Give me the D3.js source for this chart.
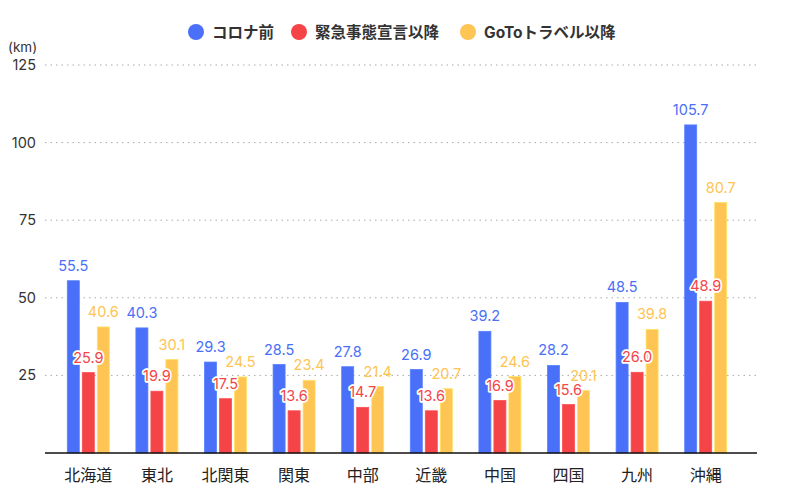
<!DOCTYPE html>
<html><head><meta charset="utf-8">
<script src="https://cdn.jsdelivr.net/npm/d3@7"></script>
<style>
body{margin:0;background:#fff;}
svg{font-family:Inter,"Noto Sans CJK JP",sans-serif;}
</style></head>
<body><svg id="c" width="800" height="500"></svg>
<script>
const categories = ["北海道","東北","北関東","関東","中部","近畿","中国","四国","九州","沖縄"];
const seriesNames = ["コロナ前","緊急事態宣言以降","GoToトラベル以降"];
const beforeCorona = [55.5,40.3,29.3,28.5,27.8,26.9,39.2,28.2,48.5,105.7];
const emergency = [25.9,19.9,17.5,13.6,14.7,13.6,16.9,15.6,26.0,48.9];
const goTo = [40.6,30.1,24.5,23.4,21.4,20.7,24.6,20.1,39.8,80.7];
const yTicks = [25,50,75,100,125];
const colors = ["#4a6ff8","#f44448","#fec454"];
const series = [beforeCorona, emergency, goTo];

const svg = d3.select("#c");
const y = d3.scaleLinear().domain([0,125]).range([453,65]);
const x = d3.scaleBand().domain(categories).range([54,740]);
const barW = 12, step = 15;

// gridlines
svg.append("g").selectAll("line").data(yTicks).join("line")
  .attr("x1",45).attr("x2",757).attr("y1",d=>y(d)).attr("y2",d=>y(d))
  .attr("stroke","#aaa").attr("stroke-width",1).attr("stroke-dasharray","1.5,4");
svg.append("g").selectAll("text").data(yTicks).join("text")
  .attr("x",36).attr("y",d=>y(d)+5).attr("text-anchor","end")
  .attr("font-size",14.5).attr("fill","#333").text(d=>d);
svg.append("text").attr("x",8).attr("y",52).attr("font-size",13.5).attr("fill","#333").text("(km)");

// bars
series.forEach((vals,si)=>{
  const g = svg.append("g");
  g.selectAll("rect").data(vals).join("rect")
    .attr("x",(d,i)=>x(categories[i])+x.bandwidth()/2 + (si-1)*step - barW/2)
    .attr("y",d=>y(d)).attr("width",barW).attr("height",d=>y(0)-y(d))
    .attr("fill",colors[si]).attr("stroke", d3.color(colors[si]).brighter(0.4)).attr("stroke-width",0.8);
});
// axis line
svg.append("line").attr("x1",45).attr("x2",757).attr("y1",y(0)).attr("y2",y(0))
  .attr("stroke","#111").attr("stroke-width",1.5);

// labels
series.forEach((vals,si)=>{
  const g = svg.append("g");
  g.selectAll("text").data(vals).join("text")
    .attr("x",(d,i)=>x(categories[i])+x.bandwidth()/2 + (si-1)*step)
    .attr("y",d=>y(d)-10).attr("text-anchor","middle").attr("font-size",14.5)
    .attr("fill",colors[si])
    .attr("stroke", si===1 ? "#fff" : "none").attr("stroke-width",si===1?3.5:0)
    .attr("paint-order","stroke").attr("stroke-linejoin","round")
    .text(d=>d.toFixed(1));
});

// x labels
svg.append("g").selectAll("text").data(categories).join("text")
  .attr("x",d=>x(d)+x.bandwidth()/2).attr("y",481).attr("text-anchor","middle")
  .attr("font-size",16).attr("fill","#222").text(d=>d);

// legend
const legX = [196,299,468];
const lg = svg.append("g");
seriesNames.forEach((n,i)=>{
  lg.append("circle").attr("cx",legX[i]).attr("cy",32).attr("r",8).attr("fill",colors[i]);
  lg.append("text").attr("x",legX[i]+16).attr("y",37.5).attr("font-size",15.5)
    .attr("font-weight","bold").attr("fill","#333").text(n);
});
</script></body></html>
